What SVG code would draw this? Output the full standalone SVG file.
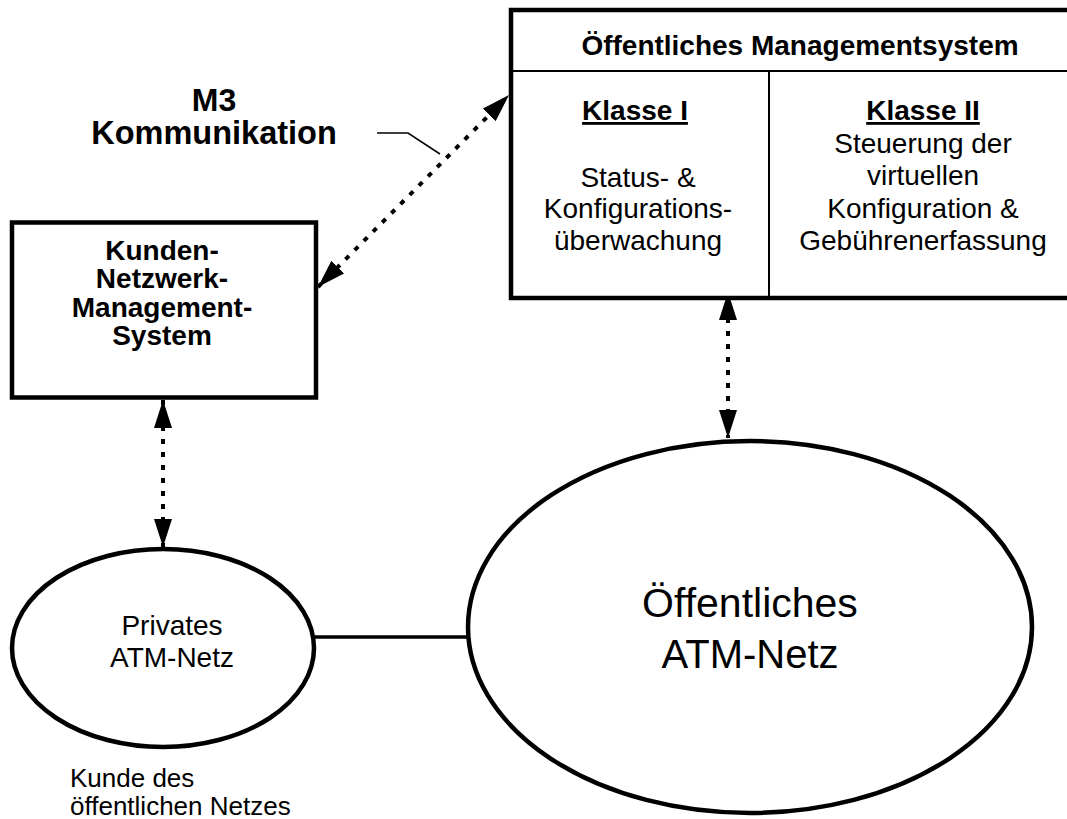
<svg xmlns="http://www.w3.org/2000/svg" width="1067" height="819" viewBox="0 0 1067 819">
  <style>
    .box { fill: #fff; stroke: #000; stroke-width: 4.5; }
    .rule { stroke: #000; stroke-width: 2; fill: none; }
    .net { fill: #fff; stroke: #000; stroke-width: 4.5; }
    .link { stroke: #000; stroke-width: 3.5; fill: none; }
    .dotted { stroke: #000; stroke-width: 4; stroke-dasharray: 5 8; fill: none; marker-start: url(#head); marker-end: url(#head); }
    .leader { stroke: #000; stroke-width: 1.5; fill: none; }
    text { font-family: "Liberation Sans", Arial, sans-serif; fill: #000; text-anchor: middle; }
    .b { font-weight: bold; }
    .u { text-decoration: underline; }
  </style>
  <defs>
    <marker id="head" viewBox="0 0 28 18" refX="28" refY="9" markerWidth="28" markerHeight="18" markerUnits="userSpaceOnUse" orient="auto-start-reverse">
      <path d="M0,0 L28,9 L0,18 z" fill="#000"/>
    </marker>
  </defs>

  <!-- connectors -->
  <g id="connectors">
    <path class="dotted" d="M318,287 L509,95"/>
    <path class="dotted" d="M163,400 L163,547"/>
    <path class="dotted" d="M728,292 L728,438"/>
    <line class="link" x1="314" y1="637" x2="469" y2="637"/>
    <path class="leader" d="M377,133 L408,133 L440,154"/>
  </g>

  <!-- label of the M3 interface -->
  <g id="m3-label">
    <text class="b" x="214" y="111" font-size="32">M3</text>
    <text class="b" x="214" y="144" font-size="32.5">Kommunikation</text>
  </g>

  <!-- public management system -->
  <g id="public-mgmt">
    <rect class="box" x="511" y="10" width="570" height="288"/>
    <line class="rule" x1="511" y1="71" x2="1081" y2="71"/>
    <line class="rule" x1="769" y1="71" x2="769" y2="298" stroke-width="2.5"/>
    <text class="b" x="800" y="55" font-size="28">Öffentliches Managementsystem</text>
    <text class="b u" x="635" y="120" font-size="28">Klasse I</text>
    <text x="638" y="187" font-size="28">Status- &amp;</text>
    <text x="638" y="218" font-size="28">Konfigurations-</text>
    <text x="638" y="250" font-size="28">überwachung</text>
    <text class="b u" x="923" y="120" font-size="28">Klasse II</text>
    <text x="923" y="153" font-size="28">Steuerung der</text>
    <text x="923" y="185" font-size="28">virtuellen</text>
    <text x="923" y="218" font-size="28">Konfiguration &amp;</text>
    <text x="923" y="250" font-size="28">Gebührenerfassung</text>
  </g>

  <!-- customer network management system -->
  <g id="customer-nms">
    <rect class="box" x="12" y="222.5" width="304" height="175"/>
    <text class="b" x="162" y="260" font-size="28">Kunden-</text>
    <text class="b" x="162" y="288" font-size="28">Netzwerk-</text>
    <text class="b" x="162" y="317" font-size="28">Management-</text>
    <text class="b" x="162" y="345" font-size="28">System</text>
  </g>

  <!-- private ATM network -->
  <g id="private-atm">
    <ellipse class="net" cx="163" cy="648" rx="151" ry="99"/>
    <text x="172" y="635" font-size="28">Privates</text>
    <text x="172" y="667" font-size="28">ATM-Netz</text>
  </g>

  <!-- public ATM network -->
  <g id="public-atm">
    <ellipse class="net" cx="750" cy="627" rx="282" ry="186"/>
    <text x="750" y="617" font-size="41">Öffentliches</text>
    <text x="750" y="668" font-size="40">ATM-Netz</text>
  </g>

  <!-- caption under the private network -->
  <g id="customer-caption">
    <text x="70" y="787" font-size="26" style="text-anchor:start">Kunde des</text>
    <text x="70" y="815" font-size="26" style="text-anchor:start">öffentlichen Netzes</text>
  </g>
</svg>
